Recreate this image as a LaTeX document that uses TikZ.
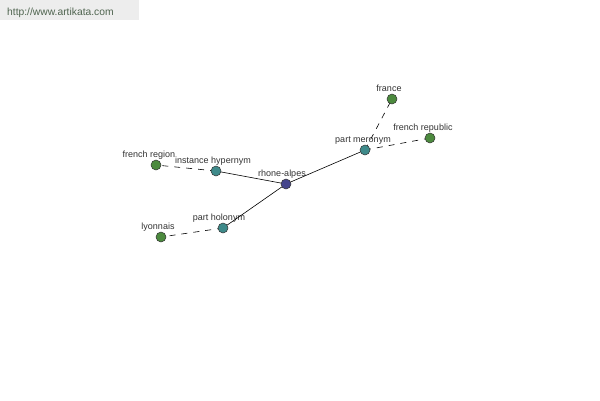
\documentclass[tikz,border=0pt]{standalone}
\usepackage{fontspec}
\setmainfont{Liberation Sans}
\definecolor{hub}{HTML}{45458C}
\definecolor{rel}{HTML}{3E8A8A}
\definecolor{leaf}{HTML}{4C8A3E}
\definecolor{lbl}{HTML}{333333}
\definecolor{urlc}{HTML}{4F644F}
\tikzset{
  dot/.style={circle, draw=black!80, line width=0.5pt, minimum size=10pt, inner sep=0pt},
  hubdot/.style={dot, fill=hub},
  reldot/.style={dot, fill=rel},
  leafdot/.style={dot, fill=leaf},
  lab/.style={anchor=base, inner sep=0pt, font=\fontsize{9}{10}\selectfont, text=lbl},
  solidedge/.style={draw=black, line width=0.6pt},
  dashedge/.style={draw=black, line width=0.6pt, dash pattern=on 6pt off 6pt},
}
\begin{document}
\begin{tikzpicture}[x=1pt,y=-1pt]
\useasboundingbox (0,0) rectangle (600,400);
\fill[white] (0,0) rectangle (600,400);
\fill[black!7] (0,0) rectangle (139,20);
\node[anchor=base west, inner sep=0pt, font=\fontsize{10.3}{12}\selectfont, text=urlc] (url) at (7,15) {http://www.artikata.com};
% coordinates of nodes
\coordinate (pra) at (286,184);
\coordinate (pih) at (216,171);
\coordinate (pfr) at (156,165);
\coordinate (pph) at (223,228);
\coordinate (ply) at (161,237);
\coordinate (ppm) at (365,150);
\coordinate (pfa) at (392,99);
\coordinate (pfp) at (430,138);
% labels
\node[lab] (lra) at (282,176) {rhone-alpes};
\node[lab] (lih) at (213,163) {instance hypernym};
\node[lab] (lfr) at (149,157) {french region};
\node[lab] (lph) at (219,220) {part holonym};
\node[lab] (lly) at (158,229) {lyonnais};
\node[lab] (lpm) at (363,142) {part meronym};
\node[lab] (lfa) at (389,91) {france};
\node[lab] (lfp) at (423,130) {french republic};
% edges
\draw[solidedge] (pra) -- (pih);
\draw[solidedge] (pra) -- (pph);
\draw[solidedge] (pra) -- (ppm);
\draw[dashedge] (pih) -- (pfr);
\draw[dashedge] (pph) -- (ply);
\draw[dashedge] (ppm) -- (pfa);
\draw[dashedge] (ppm) -- (pfp);
% dots
\node[hubdot] (ra) at (pra) {};
\node[reldot] (ih) at (pih) {};
\node[leafdot] (fr) at (pfr) {};
\node[reldot] (ph) at (pph) {};
\node[leafdot] (ly) at (ply) {};
\node[reldot] (pm) at (ppm) {};
\node[leafdot] (fa) at (pfa) {};
\node[leafdot] (fp) at (pfp) {};
\end{tikzpicture}
\end{document}
